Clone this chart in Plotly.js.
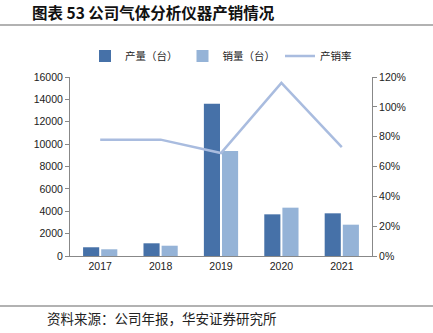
<!DOCTYPE html>
<html><head><meta charset="utf-8">
<script src="https://cdn.plot.ly/plotly-3.0.1.min.js"></script>
<style>html,body{margin:0;padding:0;background:#fff}#c{width:433px;height:333px}</style>
</head><body><div id="c"></div>
<script>
const years = ['2017','2018','2019','2020','2021'];
const production = [780, 1135, 13600, 3725, 3815];
const sales = [600, 920, 9380, 4320, 2800];
const rate = [0.78, 0.78, 0.69, 1.16, 0.73];
const leftTicks = [0,2000,4000,6000,8000,10000,12000,14000,16000];
const rightTicks = [0,0.2,0.4,0.6,0.8,1.0,1.2];
const rightTickText = ['0%','20%','40%','60%','80%','100%','120%'];

const tickFont = {family:'Liberation Sans, Arial, sans-serif', size:10.5, color:'#222'};
const data = [
  {type:'bar', name:'产量（台）', x:years, y:production, marker:{color:'#4671A8'}},
  {type:'bar', name:'销量（台）', x:years, y:sales, marker:{color:'#95B3D7'}},
  {type:'scatter', mode:'lines', name:'产销率', x:years, y:rate, yaxis:'y2', line:{color:'#A9BCDF', width:2.5}}
];
const layout = {
  width:433, height:333,
  margin:{l:70, r:61, t:77, b:77},
  paper_bgcolor:'#fff', plot_bgcolor:'#fff',
  barmode:'group', bargap:0.40, bargroupgap:0.11,
  showlegend:true,
  legend:{orientation:'h', x:0.5, xanchor:'center', y:1.117, yanchor:'middle',
    font:{family:'Noto Sans CJK SC, sans-serif', size:10.5, color:'#222'}, itemwidth:30, tracegroupgap:0},
  title:{text:'<b>图表 53 公司气体分析仪器产销情况</b>', x:32/433, xanchor:'left', y:1-14/333, yanchor:'middle',
    font:{family:'Noto Sans CJK SC, sans-serif', size:15.5, color:'#111'}},
  xaxis:{type:'category', showline:true, linecolor:'#888', linewidth:1, ticks:'', showgrid:false,
    tickfont:tickFont, zeroline:false},
  yaxis:{range:[0,16000], tickvals:leftTicks, ticktext:leftTicks.map(String), showline:true, linecolor:'#888', linewidth:1,
    ticks:'outside', ticklen:4, tickcolor:'#888', showgrid:false, zeroline:false, tickfont:tickFont},
  yaxis2:{overlaying:'y', side:'right', range:[0,1.2], tickvals:rightTicks, ticktext:rightTickText, showline:true,
    linecolor:'#888', linewidth:1, ticks:'outside', ticklen:4, tickcolor:'#888', showgrid:false, zeroline:false, tickfont:tickFont},
  shapes:[
    {type:'line', xref:'paper', yref:'paper', x0:-70/302, x1:(433-70)/302, y0:(256-25)/179, y1:(256-25)/179, line:{color:'#666', width:1.2}},
    {type:'line', xref:'paper', yref:'paper', x0:-70/302, x1:(433-70)/302, y0:(256-306)/179, y1:(256-306)/179, line:{color:'#666', width:1.2}}
  ],
  annotations:[
    {text:'资料来源：公司年报，华安证券研究所', xref:'paper', yref:'paper', x:(45-70)/302, y:(256-318)/179,
     xanchor:'left', yanchor:'middle', showarrow:false, font:{family:'Noto Sans CJK SC, sans-serif', size:13.5, color:'#222'}}
  ]
};
Plotly.newPlot('c', data, layout, {displayModeBar:false, staticPlot:true});
</script></body></html>
